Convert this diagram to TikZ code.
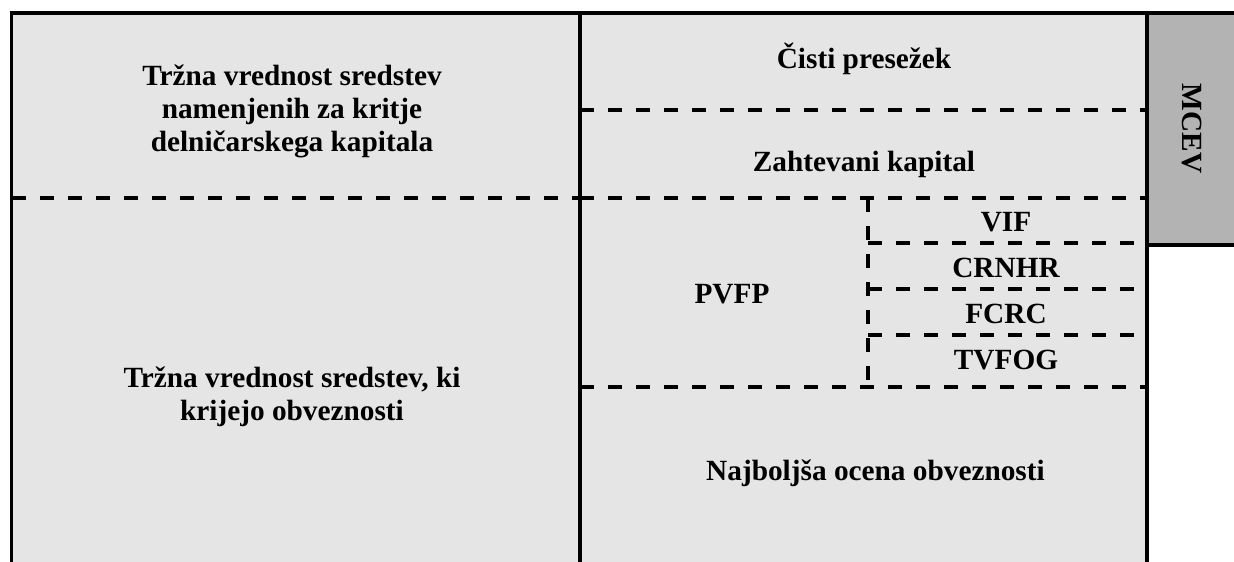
\documentclass[tikz,border=0pt]{standalone}
\usepackage{fontspec}
\setmainfont{Liberation Serif}
\definecolor{panel}{HTML}{E5E5E5}
\definecolor{mcevfill}{HTML}{B3B3B3}
\tikzset{
  frameline/.style={line width=3.6pt},
  dashline/.style={line width=4pt, dash pattern=on 14pt off 14pt},
  lbl/.style={inner sep=0pt, font=\bfseries\fontsize{29.3}{33}\selectfont},
  lblc/.style={lbl, align=center, anchor=center},
  lblb/.style={lbl, anchor=base},
}
\begin{document}
\begin{tikzpicture}[x=1pt,y=-1pt]
\useasboundingbox (0,0) rectangle (1234,562);
% fills
\fill[panel] (11.5,13) rectangle (1147,562);
\fill[mcevfill] (1147,13) rectangle (1234,245);
% dashed separators
\draw[dashline] (11.5,198) -- (580,198);
\draw[dashline] (580,198) -- (1147,198);
\draw[dashline] (580,110) -- (1147,110);
\draw[dashline] (580,387) -- (1147,387);
\draw[dashline] (868,198) -- (868,387);
\draw[dashline] (868,243) -- (1147,243);
\draw[dashline] (868,289) -- (1147,289);
\draw[dashline] (868,335) -- (1147,335);
% solid frame
\draw[frameline] (11.5,562) -- (11.5,13) -- (1234,13);
\draw[frameline] (580,13) -- (580,562);
\draw[frameline] (1147,13) -- (1147,562);
\draw[frameline] (1147,245) -- (1234,245);
% labels
\node[lblc] (assetsTop) at (292,111.4) {Tržna vrednost sredstev\\namenjenih za kritje\\delničarskega kapitala};
\node[lblc] (assetsBot) at (292,396.4) {Tržna vrednost sredstev, ki\\krijejo obveznosti};
\node[lblb] (surplus) at (864,68) {Čisti presežek};
\node[lblb] (reqcap) at (864,171) {Zahtevani kapital};
\node[lblb] (pvfp) at (732,303) {PVFP};
\node[lblb] (vif) at (1006,231) {VIF};
\node[lblb] (crnhr) at (1006,277) {CRNHR};
\node[lblb] (fcrc) at (1006,323) {FCRC};
\node[lblb] (tvfog) at (1006,369) {TVFOG};
\node[lblb] (beo) at (875.5,480) {Najboljša ocena obveznosti};
\node[lbl, rotate=-90] (mcev) at (1192,128.5) {MCEV};
\end{tikzpicture}
\end{document}
